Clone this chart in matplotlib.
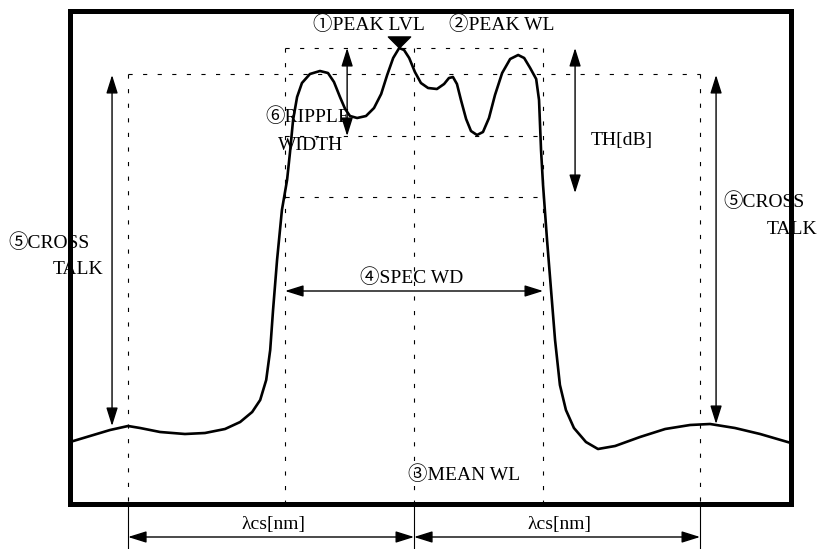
import matplotlib
matplotlib.use("Agg")
import matplotlib.pyplot as plt
from matplotlib.patches import FancyArrowPatch
from matplotlib.path import Path

plt.rcParams["font.family"] = ["Liberation Serif", "Noto Sans CJK JP", "DejaVu Sans"]
plt.rcParams["lines.scale_dashes"] = False

# spectrum: x = wavelength offset in units of the channel spacing, y = level in dB
wl = [-1.203, -1.133, -1.063, -1.000, -0.958, -0.888, -0.801, -0.731, -0.661, -0.608,
      -0.566, -0.538, -0.517, -0.503, -0.493, -0.479, -0.462, -0.444, -0.434, -0.423,
      -0.409, -0.392, -0.364, -0.329, -0.301, -0.280, -0.259, -0.241, -0.224, -0.199,
      -0.168, -0.140, -0.115, -0.094, -0.073, -0.052, -0.035, -0.017, 0.003, 0.024,
      0.049, 0.080, 0.105, 0.122, 0.136, 0.150, 0.164, 0.182, 0.199, 0.220,
      0.241, 0.262, 0.283, 0.308, 0.336, 0.364, 0.385, 0.406, 0.427, 0.437,
      0.444, 0.451, 0.465, 0.479, 0.493, 0.510, 0.531, 0.559, 0.601, 0.643,
      0.703, 0.790, 0.878, 0.965, 1.035, 1.122, 1.210, 1.318]
level = [-39.4, -38.8, -38.2, -37.8, -38.0, -38.4, -38.6, -38.5, -38.1, -37.4,
         -36.4, -35.2, -33.2, -30.2, -26.2, -21.2, -16.2, -13.2, -10.5, -7.2,
         -4.9, -3.5, -2.6, -2.3, -2.5, -3.4, -4.9, -6.1, -6.8, -7.0,
         -6.8, -6.0, -4.6, -2.7, -1.0, 0.0, -0.2, -1.0, -2.4, -3.5,
         -4.0, -4.1, -3.6, -3.0, -2.9, -3.6, -5.2, -7.1, -8.3, -8.7,
         -8.4, -7.0, -4.7, -2.5, -1.1, -0.7, -1.0, -2.0, -3.1, -5.2,
         -10.2, -13.7, -19.2, -24.2, -29.2, -33.7, -36.2, -38.0, -39.4, -40.1,
         -39.8, -38.9, -38.1, -37.7, -37.6, -38.0, -38.6, -39.5]

peak_wl = -0.052
peak_lvl = 0.0
spec_wd = 0.451
xtalk_lvl = -2.6
ripple_lvl = -8.8
th_lvl = -14.9
lam_cs = 1.0
xtalk_left = -37.8
xtalk_right = -37.6

fig = plt.figure(figsize=(8.17, 5.49), dpi=100)
ax = fig.add_axes([70 / 817, 45 / 549, 721 / 817, 493 / 549])
ax.set_xlim(-1.203, 1.318)
ax.set_ylim(-45.6, 3.7)
ax.set_xticks([])
ax.set_yticks([])
for s in ax.spines.values():
    s.set_linewidth(3.6)
    s.set_zorder(10)

dash = dict(color="k", lw=0.8, linestyle=(0, (3, 7.5)))
ybot = -45.6

# dashed guide lines
ax.plot([-spec_wd, spec_wd], [peak_lvl, peak_lvl], **dash)
ax.plot([-lam_cs, lam_cs], [xtalk_lvl, xtalk_lvl], **dash)
ax.plot([-spec_wd, spec_wd], [ripple_lvl, ripple_lvl], **dash)
ax.plot([-spec_wd, spec_wd], [th_lvl, th_lvl], **dash)
for xv in (-spec_wd, 0, spec_wd):
    ax.plot([xv, xv], [peak_lvl, ybot], **dash)
for xv in (-lam_cs, lam_cs):
    ax.plot([xv, xv], [xtalk_lvl, ybot], **dash)

# spectrum curve
ax.plot(wl, level, color="k", lw=1.9, solid_joinstyle="round", zorder=5)

# peak marker
tri = Path([(-1, 0.5), (1, 0.5), (0, -0.5), (-1, 0.5)],
           [Path.MOVETO, Path.LINETO, Path.LINETO, Path.CLOSEPOLY])
ax.plot([peak_wl], [peak_lvl + 0.6], marker=tri, ms=16, color="k", zorder=6)


def arrow(p1, p2, clip=True):
    a = FancyArrowPatch(p1, p2, arrowstyle="<|-|>,head_length=0.7,head_width=0.22",
                        mutation_scale=16, lw=1.0, color="k",
                        shrinkA=0, shrinkB=0, zorder=4)
    a.set_clip_on(clip)
    ax.add_patch(a)


arrow((-0.234, peak_lvl), (-0.234, ripple_lvl))
arrow((0.563, peak_lvl), (0.563, -14.5))
arrow((-1.056, xtalk_lvl - 0.1), (-1.056, xtalk_left))
arrow((1.056, xtalk_lvl - 0.1), (1.056, xtalk_right))
arrow((-spec_wd, -24.3), (spec_wd, -24.3))

# channel spacing below the frame
for xv in (-lam_cs, 0, lam_cs):
    ax.plot([xv, xv], [ybot, -50.1], color="k", lw=0.8, clip_on=False)
arrow((-lam_cs, -48.9), (0, -48.9), clip=False)
arrow((0, -48.9), (lam_cs, -48.9), clip=False)

fs = 14
txt = dict(fontsize=fs, ha="center", va="center", color="k", clip_on=False, zorder=8)
ax.text(-0.159, 2.3, "①PEAK LVL", **txt)
ax.text(0.308, 2.3, "②PEAK WL", **txt)
ax.text(-0.371, -6.9, "⑥RIPPLE", **txt)
ax.text(-0.36, -9.7, "WIDTH", **txt)
ax.text(0.727, -9.2, "TH[dB]", **txt)
ax.text(-1.276, -19.5, "⑤CROSS", **txt)
ax.text(-1.175, -22.2, "TALK", **txt)
ax.text(1.224, -15.4, "⑤CROSS", **txt)
ax.text(1.322, -18.1, "TALK", **txt)
ax.text(-0.010, -23.0, "④SPEC WD", **txt)
ax.text(0.175, -42.7, "③MEAN WL", **txt)
ax.text(-0.49, -47.6, "λcs[nm]", **txt)
ax.text(0.51, -47.6, "λcs[nm]", **txt)

fig.savefig("out.png", dpi=100)
